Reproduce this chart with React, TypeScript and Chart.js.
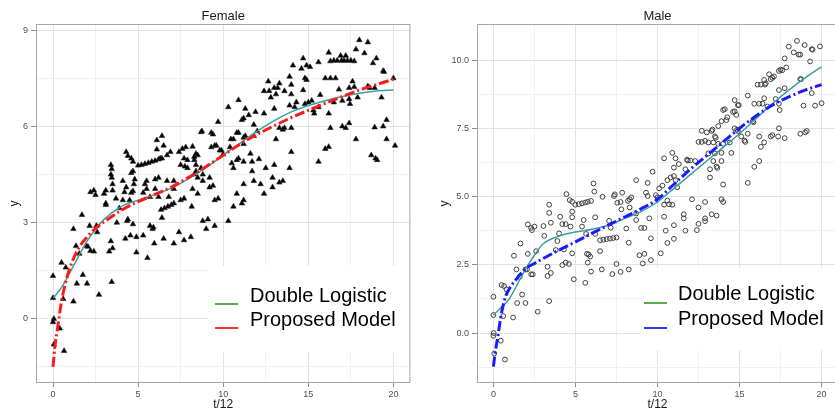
import React, { useEffect, useRef } from 'react';
import { Chart, registerables } from 'chart.js';
Chart.register(...registerables);

// ---------- data ----------
const curveT = [0, 0.1, 0.25, 0.5, 0.75, 1, 1.5, 2, 2.5, 3, 4, 5, 6, 7, 8, 9, 10, 11, 12, 13, 14, 15, 16, 17, 18, 19, 20];

const femaleDoubleLogistic = [0.65, 0.7, 0.8, 0.98, 1.2, 1.45, 1.95, 2.42, 2.8, 3.1, 3.5, 3.7, 3.88, 4.08, 4.38, 4.72, 5.1, 5.48, 5.85, 6.18, 6.45, 6.65, 6.8, 6.93, 7.03, 7.1, 7.13];
const femaleProposed = [-1.5, -0.9, -0.35, 0.55, 1.15, 1.6, 2.2, 2.55, 2.82, 3.02, 3.38, 3.65, 3.88, 4.12, 4.42, 4.75, 5.1, 5.45, 5.75, 6.02, 6.27, 6.5, 6.72, 6.93, 7.13, 7.3, 7.47];
const maleDoubleLogistic = [0.66, 0.72, 0.8, 0.95, 1.1, 1.28, 1.83, 2.38, 2.85, 3.25, 3.55, 3.7, 3.8, 3.95, 4.2, 4.45, 4.8, 5.3, 5.8, 6.3, 6.8, 7.3, 7.85, 8.4, 8.9, 9.35, 9.75];
const maleProposed = [-1.23, -0.75, -0.2, 0.75, 1.35, 1.65, 2.05, 2.37, 2.55, 2.72, 3.04, 3.34, 3.65, 3.95, 4.25, 4.55, 4.9, 5.45, 6.0, 6.5, 7.0, 7.5, 7.95, 8.35, 8.65, 8.9, 9.1];

const femalePoints: [number, number][] = [
  [0,1.34],[0,0.65],[0.05,0],[0,-0.1],[0.05,-0.8],[0.4,-0.3],[0.65,-1.0],[0.5,1.75],[0.75,1.6],[0.6,0.62],[1.2,0.54],[1.2,2.8],[1.35,2.27],[1.4,1.1],[1.7,3.24],[1.55,2.03],[1.75,1.37],[2.0,1.1],[1.95,2.27],[2.05,2.25],[2.15,2.9],[2.2,2.12],[2.4,2.1],[2.55,2.9],[2.6,2.7],[2.7,0.75],[3.1,3.55],[3.3,2.1],[3.4,2.42],[3.5,2.2],[3.45,1.15],[3.75,3.0],[3.9,3.45],[2.2,3.95],[2.5,3.86],[2.4,4.0],[3.0,3.9],[3.1,4.0],[3.1,3.6],[3.45,4.67],[3.45,4.4],[3.5,4.0],[3.4,4.8],[3.4,4.5],[3.5,4.2],[3.7,3.75],
  [4.25,2.5],[4.35,3.05],[4.4,3.1],[4.55,2.6],[4.7,2.95],[4.9,2.55],[4.9,2.07],[5.3,2.6],[5.55,1.9],[5.7,2.9],[5.85,2.8],[5.9,2.85],[5.95,2.35],[6.4,3.15],[6.5,2.5],[4.1,4.3],[4.1,3.7],[4.2,3.95],[4.3,4.1],[4.4,5.08],[4.3,5.2],[4.6,5.0],[4.7,4.9],[4.6,4.55],[4.75,4.2],[4.7,4.6],[4.8,4.35],[4.7,3.98],[4.6,3.93],[4.5,3.7],[5.0,4.78],[5.2,4.8],[5.4,4.83],[5.6,4.86],[5.8,4.9],[6.0,4.93],[6.2,4.97],[6.3,5.0],[5.3,3.93],[5.4,4.2],[5.5,4.3],[5.5,4.05],[5.7,3.8],[6.0,4.05],[6.0,4.35],[6.2,4.4],[6.2,3.8],[6.1,5.57],[6.1,5.28],[6.4,5.7],[6.5,5.4],[6.4,5.0],[6.7,5.1],[6.9,5.2],[6.7,4.3],[6.8,3.8],[6.35,3.4],[6.55,3.45],[6.75,3.5],[6.95,3.55],[7.1,4.3],[7.1,4.05],[7.1,3.6],[7.1,2.35],[7.4,2.7],[7.7,2.45],[8.1,2.55],[8.15,3.5],[8.8,3.05],[9.1,3.1],[9.0,2.8],[9.5,2.9],[9.5,3.7],[7.5,3.7],[7.7,3.75],[7.4,5.2],[7.6,5.3],[7.8,5.35],[7.5,4.8],[7.7,5.0],[7.75,4.75],[7.9,4.7],[7.9,4.95],[8.2,5.37],[8.3,4.95],[8.3,5.05],[8.4,5.15],[8.5,5.1],[8.4,4.6],[8.4,4.8],[8.5,4.4],[8.3,4.5],[8.2,4.05],[8.5,3.9],[8.7,5.82],[8.75,5.85],[8.7,4.7],[8.8,4.5],[8.8,4.3],[9.2,4.4],[9.2,4.1],[9.3,5.8],[9.3,5.35],[9.4,5.75],[9.4,4.15],[9.5,5.4],[9.6,5.4],[9.7,6.14],[9.7,3.75],[9.8,5.25],[9.9,5.25],[10.0,5.13],
  [10.3,6.6],[10.9,6.82],[11.3,6.55],[11.5,6.35],[11.9,6.45],[11.1,6.2],[11.2,6.25],[11.8,6.05],[12.0,5.85],[12.4,6.4],[13.0,6.55],[10.3,3.05],[10.4,5.35],[10.5,4.85],[10.6,5.6],[10.45,5.6],[10.6,4.7],[10.6,3.5],[10.8,5.8],[10.9,5.8],[10.8,4.95],[10.9,5.0],[10.8,3.9],[11.1,3.6],[11.2,5.65],[11.3,5.7],[11.2,5.45],[11.2,4.9],[11.2,4.2],[11.2,3.7],[11.6,5.15],[11.7,4.9],[11.7,4.6],[11.8,5.7],[11.8,4.3],[12.1,4.98],[12.2,4.2],[12.4,3.9],[12.5,4.7],[12.4,7.1],[12.65,7.4],[12.7,7.1],[12.8,6.9],[12.9,4.4],[12.9,4.1],[13.0,7.2],[13.1,7.0],[13.0,4.8],[13.1,5.6],[13.2,7.2],[13.3,7.34],[13.3,5.95],[13.3,4.25],[13.5,4.3],[13.5,5.9],[13.6,7.1],[13.6,5.95],[13.9,7.55],[13.9,6.65],[13.9,4.7],[14.0,7.3],[14.0,7.0],[14.0,5.95],[14.0,5.2],
  [14.1,7.9],[14.2,6.6],[14.3,6.75],[14.6,7.8],[14.7,8.12],[14.7,7.13],[14.8,7.5],[14.9,7.45],[14.8,6.7],[14.9,7.9],[15.0,6.75],[15.1,7.85],[15.2,6.8],[15.3,6.5],[15.35,6.4],[15.6,8.0],[15.6,6.6],[15.6,4.9],[15.7,6.98],[16.0,7.5],[16.0,5.3],[16.2,8.3],[16.2,6.4],[16.2,5.36],[16.3,7.5],[16.3,5.95],[16.3,8.03],[16.5,8.05],[16.5,6.75],[16.6,7.5],[16.7,8.05],[16.8,7.15],[16.9,8.2],[16.95,8.05],[17.0,6.8],[17.0,6.0],[17.1,8.05],[17.2,8.2],[17.2,5.95],[17.3,8.05],[17.4,7.2],[17.4,6.85],[17.45,6.7],[17.4,6.1],[17.5,8.05],[17.6,7.4],[17.7,8.03],[17.7,7.23],[17.8,8.4],[17.8,5.6],[17.9,6.9],[18.0,8.69],[18.3,8.28],[18.5,8.62],[18.5,7.25],[18.6,7.2],[18.7,5.1],[18.8,7.97],[18.9,7.2],[18.9,5.97],[18.95,5.0],[19.0,8.12],[19.05,4.95],[19.3,6.9],[19.4,7.73],[19.45,7.7],[19.4,6.0],[19.6,6.2],[19.6,5.6],[20.0,7.5],[20.1,5.4],
];

const malePoints: [number, number][] = [
  [0,1.33],[0,0.66],[0.02,0.0],[0,-0.1],[0.05,-0.75],[0.45,-0.28],[0.7,-0.97],[0.5,1.76],[0.65,1.72],[0.8,1.6],[0.6,0.62],[1.2,0.57],[1.25,2.83],[1.4,2.33],[1.45,1.1],[1.95,1.1],[1.65,3.28],[1.75,1.41],[1.6,2.06],[1.95,2.33],[2.05,2.33],[2.1,2.9],[2.3,2.15],[2.4,2.15],[2.1,3.98],[2.3,3.85],[2.5,3.9],[2.35,3.77],[2.6,3.0],[2.7,0.78],[3.05,3.92],[3.1,3.56],[3.3,2.09],[3.3,2.43],[3.5,2.2],[3.4,1.17],[3.4,4.7],[3.4,4.4],[3.5,4.04],[3.9,3.37],[3.8,3.04],[4.0,3.65],
  [4.07,4.26],[4.2,3.99],[4.4,3.99],[4.3,3.06],[4.2,2.49],[4.4,2.58],[4.6,2.53],[4.8,2.92],[4.7,3.9],[4.8,4.24],[4.8,4.45],[4.9,1.97],[4.45,5.09],[4.65,4.87],[4.8,4.81],[5.0,4.7],[5.2,4.72],[5.4,4.75],[5.6,4.78],[5.75,4.81],[5.95,4.84],[5.4,3.9],[5.5,4.14],[5.6,1.84],[5.75,2.58],[5.7,2.9],[5.8,2.88],[5.65,3.63],[5.9,2.8],[5.95,2.25],[6.1,5.48],[6.15,5.18],[6.2,4.24],[6.2,3.63],[6.5,3.0],[6.5,3.4],[6.7,3.42],[6.9,3.44],[7.1,3.46],[7.3,3.48],[7.5,3.5],[6.6,2.33],[6.65,4.99],[7.05,4.11],[7.15,3.86],[7.25,2.16],[7.35,5.02],[7.4,5.08],[7.55,4.77],[7.5,2.53],[7.75,2.24],[7.75,4.8],[7.85,5.14],[7.8,4.53],
  [8.25,3.31],[8.25,2.33],[8.1,3.83],[8.2,4.84],[8.3,4.9],[8.4,4.97],[8.3,4.6],[8.7,4.38],[8.7,4.14],[8.7,5.6],[8.9,2.85],[9.2,2.9],[9.1,2.55],[9.0,3.85],[9.2,3.85],[9.3,5.14],[9.4,5.02],[9.4,5.5],[9.5,4.2],[9.6,2.67],[9.6,3.47],[9.7,5.91],[9.9,5.05],[10.0,4.97],
  [10.2,2.92],[10.4,4.26],[10.5,3.75],[10.6,3.3],[11.0,3.45],[11.0,3.95],[10.4,4.7],[10.7,4.72],[10.9,4.7],[11.6,4.35],[11.6,4.2],[11.7,3.75],[12.4,3.77],[12.5,4.0],[12.9,4.1],[12.5,4.6],[12.9,4.2],[13.3,4.35],[13.6,4.3],[12.9,4.8],[14.0,4.8],
  [10.1,5.3],[10.3,5.4],[10.6,4.85],[10.4,6.4],[10.6,5.6],[10.8,5.7],[11.0,5.75],[11.1,5.6],[10.9,6.6],[11.1,6.4],[11.0,6.06],[11.2,5.34],[11.3,6.19],[11.7,6.0],[11.8,6.35],[11.85,6.32],[12.0,6.32],[12.3,6.3],[12.1,4.9],[12.5,7.0],[12.7,7.0],[12.7,7.41],[12.9,7.04],[13.0,7.35],[13.1,6.98],[13.1,6.58],[13.2,6.0],[13.2,5.7],[13.3,7.4],[13.35,7.45],[13.4,6.98],[13.4,6.3],[13.5,7.2],[13.55,7.15],[13.5,6.58],[13.6,6.1],[13.65,6.05],[13.7,7.58],[13.7,6.93],[13.9,7.76],[13.9,6.6],[13.9,6.3],[13.9,4.9],[14.0,6.93],[14.0,8.17],[14.0,5.44],
  [14.1,8.2],[14.2,7.8],[14.25,7.9],[14.4,6.98],[14.5,6.6],[14.6,8.1],[14.7,8.53],[14.7,8.12],[14.7,7.5],[14.8,7.99],[14.9,8.35],[14.95,8.35],[14.9,7.4],[14.85,7.45],[15.1,7.2],[15.3,7.05],[15.35,7.0],[15.5,8.7],[15.5,7.3],[15.5,5.5],[15.8,7.75],[15.85,7.72],[15.9,8.4],[15.9,6.09],[16.1,9.1],[16.2,8.4],[16.2,7.2],[16.2,6.3],[16.3,9.1],[16.3,6.82],[16.4,8.4],[16.5,9.27],[16.5,8.6],[16.55,9.1],[16.5,6.98],[16.6,9.15],[16.7,8.3],[16.8,9.48],[16.9,9.3],[16.9,7.2],[17.0,9.35],[17.0,7.25],[17.1,9.4],[17.2,8.57],[17.4,9.6],[17.5,9.65],[17.6,9.62],[17.4,8.9],[17.4,8.4],[17.45,8.17],[17.4,7.5],[17.35,7.2],[17.75,10.06],[17.75,8.97],[17.75,7.14],[17.85,9.73],[18.0,10.49],[18.3,10.28],[18.5,10.7],[18.6,10.2],[18.7,10.2],[18.7,9.3],[18.75,9.3],[18.7,7.3],[18.9,8.33],[18.97,10.55],[19.0,7.35],[19.1,7.4],[19.3,9.95],[19.4,10.4],[19.45,10.38],[19.4,8.79],[19.6,8.33],[19.9,10.5],[20.0,8.42],
];

const xMajorTicks = [0, 5, 10, 15, 20];
const xMinorTicks = [2.5, 7.5, 12.5, 17.5];
const femaleYMajor = [0, 3, 6, 9];
const femaleYMinor = [-1.5, 1.5, 4.5, 7.5];
const maleYMajor = [0, 2.5, 5, 7.5, 10];
const maleYMinor = [-1.25, 1.25, 3.75, 6.25, 8.75];

const legendLabels = ['Double Logistic', 'Proposed Model'];

// ---------- styles ----------
const FONT = "'Liberation Sans', Arial, Helvetica, sans-serif";
const TEAL = '#3a9f9f';
const LEGEND_GREEN = '#5aaa50';

type PanelProps = {
  title: string;
  points: [number, number][];
  dl: number[];
  proposed: number[];
  proposedColor: string;
  legendColor: string;
  yMin: number;
  yMax: number;
  yMajor: number[];
  yMinor: number[];
  yFmt: (v: number) => string;
  yAxisWidth: number;
  canvasWidth: number;
  left: number;
  marker: 'triangle' | 'circle';
  legendBox: { x: number; y: number; w: number; h: number };
  legendLineX: [number, number];
  legendLineY: [number, number];
  legendTextX: number;
  legendTextBase: [number, number];
  yTitleX: number;
};

function Panel(p: PanelProps) {
  const ref = useRef<HTMLCanvasElement>(null);
  useEffect(() => {
    if (!ref.current) return;
    const xAll = [...xMajorTicks, ...xMinorTicks].sort((a, b) => a - b);
    const yAll = [...p.yMajor, ...p.yMinor].sort((a, b) => a - b);
    const isMajorX = (v: number) => xMajorTicks.includes(v);
    const isMajorY = (v: number) => p.yMajor.includes(v);

    const decor = {
      id: 'decor',
      afterDraw(chart: any) {
        const ctx = chart.ctx;
        const a = chart.chartArea;
        ctx.save();
        // legend background (drawn first so the panel border stays visible)
        const b = p.legendBox;
        ctx.fillStyle = '#ffffff';
        ctx.fillRect(b.x, b.y, b.w, b.h);
        // panel border
        ctx.strokeStyle = '#a6a6a6';
        ctx.lineWidth = 1;
        ctx.strokeRect(a.left + 0.5, a.top + 0.5, a.right - a.left - 1, a.bottom - a.top - 1);
        // title
        ctx.fillStyle = '#1a1a1a';
        ctx.font = `13px ${FONT}`;
        ctx.textAlign = 'center';
        ctx.textBaseline = 'middle';
        ctx.fillText(p.title, (a.left + a.right) / 2, 16);
        // x title
        ctx.font = `12px ${FONT}`;
        ctx.fillText('t/12', (a.left + a.right) / 2, 405);
        // y title
        ctx.save();
        ctx.translate(p.yTitleX, (a.top + a.bottom) / 2);
        ctx.rotate(-Math.PI / 2);
        ctx.fillText('y', 0, 0);
        ctx.restore();
        // legend keys
        ctx.lineWidth = 2;
        ctx.strokeStyle = LEGEND_GREEN;
        ctx.beginPath();
        ctx.moveTo(p.legendLineX[0], p.legendLineY[0]);
        ctx.lineTo(p.legendLineX[1], p.legendLineY[0]);
        ctx.stroke();
        ctx.strokeStyle = p.legendColor;
        ctx.beginPath();
        ctx.moveTo(p.legendLineX[0], p.legendLineY[1]);
        ctx.lineTo(p.legendLineX[1], p.legendLineY[1]);
        ctx.stroke();
        ctx.fillStyle = '#000000';
        ctx.font = `20px ${FONT}`;
        ctx.textAlign = 'left';
        ctx.textBaseline = 'alphabetic';
        ctx.fillText(legendLabels[0], p.legendTextX, p.legendTextBase[0]);
        ctx.fillText(legendLabels[1], p.legendTextX, p.legendTextBase[1]);
        ctx.restore();
      },
    };

    const gridColor = (major: boolean) => (major ? '#e3e3e3' : '#f1f1f1');

    const chart = new Chart(ref.current, {
      type: 'scatter',
      data: {
        datasets: [
          {
            label: 'Proposed Model',
            data: curveT.map((t, i) => ({ x: t, y: p.proposed[i] })),
            showLine: true,
            borderColor: p.proposedColor,
            borderWidth: 3,
            borderDash: [10, 3, 2, 3],
            pointRadius: 0,
            cubicInterpolationMode: 'monotone',
            fill: false,
            order: 0,
          } as any,
          {
            label: 'Double Logistic',
            data: curveT.map((t, i) => ({ x: t, y: p.dl[i] })),
            showLine: true,
            borderColor: TEAL,
            borderWidth: 1.5,
            pointRadius: 0,
            cubicInterpolationMode: 'monotone',
            fill: false,
            order: 1,
          } as any,
          {
            label: 'data',
            data: p.points.map(([x, y]) => ({ x, y })),
            pointStyle: p.marker,
            pointRadius: p.marker === 'triangle' ? 3.2 : 2.4,
            backgroundColor: p.marker === 'triangle' ? '#000000' : 'rgba(0,0,0,0)',
            borderColor: p.marker === 'triangle' ? '#222222' : '#404040',
            borderWidth: p.marker === 'triangle' ? 0.6 : 1,
            order: 2,
          } as any,
        ],
      },
      options: {
        responsive: false,
        animation: false,
        events: [],
        layout: { padding: { top: 24, right: 2, left: 0, bottom: 0 } },
        plugins: { legend: { display: false }, tooltip: { enabled: false }, title: { display: false } },
        scales: {
          x: {
            type: 'linear',
            min: -1,
            max: 21,
            afterFit: (s: any) => { s.height = 35; },
            afterBuildTicks: (s: any) => { s.ticks = xAll.map((v) => ({ value: v })); },
            border: { display: false },
            grid: {
              color: (c: any) => gridColor(isMajorX(c.tick?.value)),
              tickColor: (c: any) => (isMajorX(c.tick?.value) ? '#8c8c8c' : 'rgba(0,0,0,0)'),
              tickLength: 4,
              lineWidth: 1,
            },
            ticks: {
              autoSkip: false,
              maxRotation: 0,
              padding: 2,
              color: '#4d4d4d',
              font: { family: FONT, size: 9 },
              callback: (v: any) => (isMajorX(Number(v)) ? String(v) : ''),
            },
          },
          y: {
            type: 'linear',
            min: p.yMin,
            max: p.yMax,
            afterFit: (s: any) => { s.width = p.yAxisWidth; },
            afterBuildTicks: (s: any) => { s.ticks = yAll.map((v) => ({ value: v })); },
            border: { display: false },
            grid: {
              color: (c: any) => gridColor(isMajorY(c.tick?.value)),
              tickColor: (c: any) => (isMajorY(c.tick?.value) ? '#8c8c8c' : 'rgba(0,0,0,0)'),
              tickLength: 5,
              lineWidth: 1,
            },
            ticks: {
              autoSkip: false,
              padding: 3,
              color: '#4d4d4d',
              font: { family: FONT, size: 9 },
              callback: (v: any) => (isMajorY(Number(v)) ? p.yFmt(Number(v)) : ''),
            },
          },
        },
      },
      plugins: [decor],
    });
    return () => chart.destroy();
  }, []);

  return (
    <canvas
      ref={ref}
      width={p.canvasWidth}
      height={418}
      style={{ position: 'absolute', left: p.left, top: 0, width: p.canvasWidth, height: 418 }}
    />
  );
}

export default function App() {
  return (
    <div style={{ position: 'fixed', left: 0, top: 0, width: 835, height: 418, overflow: 'hidden', background: '#ffffff' }}>
      <Panel
        title="Female"
        points={femalePoints}
        dl={femaleDoubleLogistic}
        proposed={femaleProposed}
        proposedColor="#ff1a1a"
        legendColor="#ff3333"
        yMin={-2.0}
        yMax={9.19}
        yMajor={femaleYMajor}
        yMinor={femaleYMinor}
        yFmt={(v) => String(v)}
        yAxisWidth={36}
        canvasWidth={415}
        left={0}
        marker="triangle"
        legendBox={{ x: 208, y: 266, w: 204, h: 86 }}
        legendLineX={[215, 238]}
        legendLineY={[304, 328]}
        legendTextX={250}
        legendTextBase={[302, 326]}
        yTitleX={15}
      />
      <Panel
        title="Male"
        points={malePoints}
        dl={maleDoubleLogistic}
        proposed={maleProposed}
        proposedColor="#1a1aff"
        legendColor="#3333ff"
        yMin={-1.83}
        yMax={11.32}
        yMajor={maleYMajor}
        yMinor={maleYMinor}
        yFmt={(v) => v.toFixed(1)}
        yAxisWidth={62}
        canvasWidth={428}
        left={415}
        marker="circle"
        legendBox={{ x: 226, y: 268, w: 200, h: 82 }}
        legendLineX={[229, 252]}
        legendLineY={[303, 328]}
        legendTextX={263}
        legendTextBase={[300, 325]}
        yTitleX={30}
      />
    </div>
  );
}
